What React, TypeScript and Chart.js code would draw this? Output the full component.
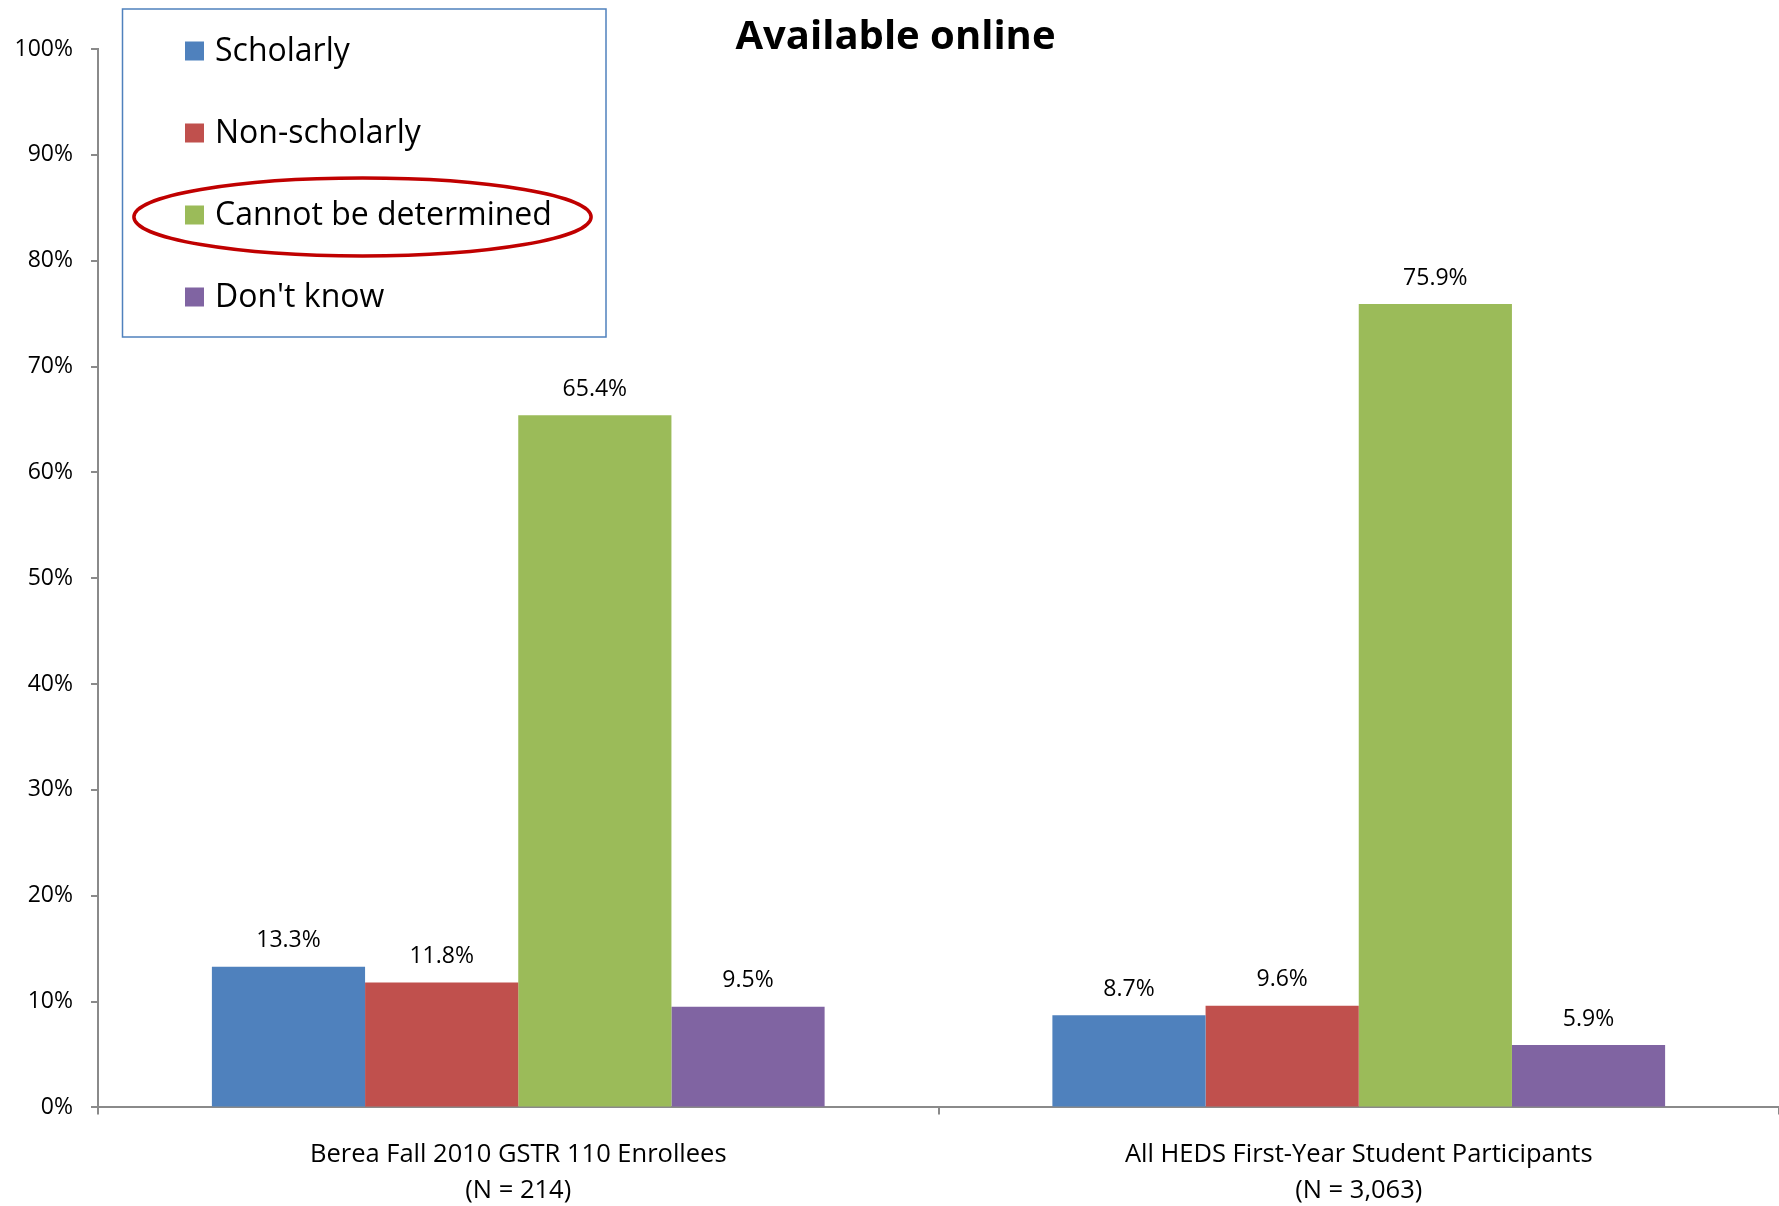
import { useEffect, useRef } from "react";
import { Chart, registerables } from "chart.js";

Chart.register(...registerables);

const chartTitle = "Available online";
const categories = [
  ["Berea Fall 2010 GSTR 110 Enrollees", "(N = 214)"],
  ["All HEDS First-Year Student Participants", "(N = 3,063)"],
];
const seriesNames = ["Scholarly", "Non-scholarly", "Cannot be determined", "Don't know"];
const scholarly = [13.3, 8.7];
const nonScholarly = [11.8, 9.6];
const cannotBeDetermined = [65.4, 75.9];
const dontKnow = [9.5, 5.9];
const seriesColors = ["#4F81BD", "#C0504D", "#9BBB59", "#8064A2"];
const highlightedSeries = 2;
const yMin = 0;
const yMax = 100;
const yStep = 10;

const FONT = '"Open Sans", "DejaVu Sans", sans-serif';
const AXIS_COLOR = "#8a8a8a";

const titlePlugin = {
  id: "customTitle",
  afterDraw(chart: any) {
    const ctx = chart.ctx;
    ctx.save();
    ctx.font = `bold 40px ${FONT}`;
    ctx.fillStyle = "#000";
    ctx.textAlign = "center";
    ctx.textBaseline = "middle";
    ctx.fillText(chartTitle, chart.width / 2 + 6, 38);
    ctx.restore();
  },
};

const dataLabelPlugin = {
  id: "dataLabels",
  afterDatasetsDraw(chart: any) {
    const ctx = chart.ctx;
    ctx.save();
    ctx.font = `23px ${FONT}`;
    ctx.fillStyle = "#000";
    ctx.textAlign = "center";
    ctx.textBaseline = "middle";
    chart.data.datasets.forEach((ds: any, i: number) => {
      const meta = chart.getDatasetMeta(i);
      meta.data.forEach((el: any, j: number) => {
        ctx.fillText(Number(ds.data[j]).toFixed(1) + "%", el.x, el.y - 26);
      });
    });
    ctx.restore();
  },
};

const legendPlugin = {
  id: "boxLegend",
  afterDraw(chart: any) {
    const ctx = chart.ctx;
    const box = { x: 122.5, y: 9, w: 483.5, h: 328 };
    ctx.save();
    ctx.fillStyle = "#fff";
    ctx.fillRect(box.x, box.y, box.w, box.h);
    ctx.strokeStyle = "#4F81BD";
    ctx.lineWidth = 1.5;
    ctx.strokeRect(box.x, box.y, box.w, box.h);
    const sq = 19;
    const sqX = 185;
    const textX = 215;
    const firstY = 51;
    const gap = 82;
    ctx.font = `32px ${FONT}`;
    ctx.textAlign = "left";
    ctx.textBaseline = "middle";
    chart.data.datasets.forEach((ds: any, i: number) => {
      const cy = firstY + i * gap;
      ctx.fillStyle = ds.backgroundColor;
      ctx.fillRect(sqX, cy - sq / 2, sq, sq);
      ctx.fillStyle = "#000";
      ctx.fillText(ds.label, textX, cy + 1);
      if (i === highlightedSeries) {
        ctx.beginPath();
        ctx.ellipse(362.5, cy + 2, 228.6, 39, 0, 0, Math.PI * 2);
        ctx.strokeStyle = "#C00000";
        ctx.lineWidth = 3.5;
        ctx.stroke();
      }
    });
    ctx.restore();
  },
};

export default function App() {
  const canvasRef = useRef<HTMLCanvasElement | null>(null);

  useEffect(() => {
    if (!canvasRef.current) return;
    const seriesValues = [scholarly, nonScholarly, cannotBeDetermined, dontKnow];
    const chart = new Chart(canvasRef.current, {
      type: "bar",
      data: {
        labels: categories,
        datasets: seriesNames.map((name, i) => ({
          label: name,
          data: seriesValues[i],
          backgroundColor: seriesColors[i],
          borderWidth: 0,
          categoryPercentage: 0.729,
          barPercentage: 1,
        })),
      },
      options: {
        responsive: false,
        animation: false,
        layout: { padding: { top: 49, left: 0, right: 0, bottom: 0 } },
        plugins: {
          legend: { display: false },
          title: { display: false },
          tooltip: { enabled: false },
        },
        scales: {
          x: {
            grid: {
              offset: true,
              drawOnChartArea: false,
              drawTicks: true,
              tickLength: 7,
              color: AXIS_COLOR,
              lineWidth: 2,
            },
            border: { display: true, color: AXIS_COLOR, width: 2 },
            ticks: {
              color: "#000",
              padding: 22,
              font: { family: FONT, size: 25.5, lineHeight: 36 / 25.5 },
              maxRotation: 0,
            },
            afterFit: (scale: any) => {
              scale.height = 98.6;
            },
          },
          y: {
            min: yMin,
            max: yMax,
            grid: {
              drawOnChartArea: false,
              drawTicks: true,
              tickLength: 7,
              color: AXIS_COLOR,
              lineWidth: 2,
            },
            border: { display: true, color: AXIS_COLOR, width: 2 },
            ticks: {
              stepSize: yStep,
              color: "#000",
              padding: 18,
              font: { family: FONT, size: 23 },
              callback: (v: any) => v + "%",
            },
            afterFit: (scale: any) => {
              scale.width = 98;
            },
          },
        },
      },
      plugins: [dataLabelPlugin, titlePlugin, legendPlugin],
    });
    return () => chart.destroy();
  }, []);

  return (
    <div style={{ position: "fixed", left: 0, top: 0, width: 1779, height: 1206, background: "#fff" }}>
      <canvas ref={canvasRef} width={1779} height={1206} style={{ display: "block" }} />
    </div>
  );
}
